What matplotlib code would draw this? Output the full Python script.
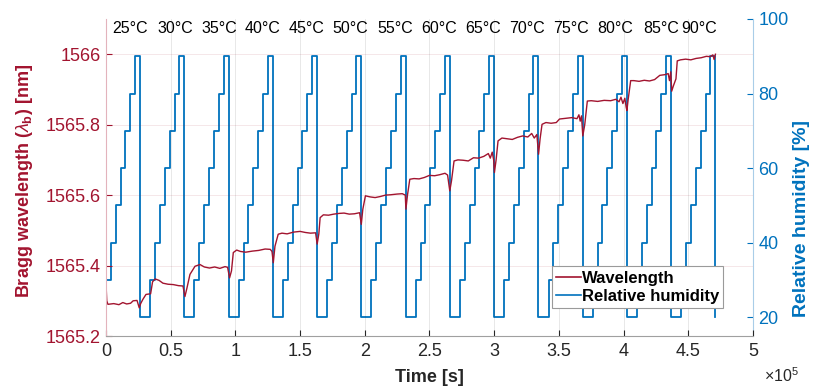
import matplotlib.pyplot as plt
from matplotlib.lines import Line2D

plt.rcParams['font.family'] = ['Liberation Sans', 'DejaVu Sans']
plt.rcParams['mathtext.fontset'] = 'custom'
plt.rcParams['mathtext.rm'] = 'Liberation Sans'
plt.rcParams['mathtext.it'] = 'Liberation Sans:italic'
plt.rcParams['mathtext.bf'] = 'Liberation Sans:bold'

# 温度标签及其位置 (s)
temps = ['25°C', '30°C', '35°C', '40°C', '45°C', '50°C', '55°C',
         '60°C', '65°C', '70°C', '75°C', '80°C', '85°C', '90°C']
temp_pos = [18550, 53320, 87330, 121330, 155330, 188560, 223340,
            257340, 291340, 325350, 359350, 393350, 428900, 458270]

# 湿度程序
rh_steps = [30, 40, 50, 60, 70, 80, 90]
rh_low = 20
step_time = 3760
low_time = 7880

# 波长数据 (时间 s, 波长 nm)
wl_t = [0, 600, 1500, 6000, 10000, 13000, 16000, 19000, 21000, 24000, 25700, 26800, 28500, 30900, 34500, 36000,
        38000, 41000, 44000, 48000, 52000, 56000, 59500, 61000, 62500, 64900, 68800, 72600,
        76000, 80000, 84000, 88000, 92000, 94000, 95500, 97000, 98400, 101000, 104000, 108000, 113000, 118000,
        123000, 127000, 128300, 129300, 130600, 133100,
        136000, 140000, 145000, 150000, 154000, 158000, 162000, 163200, 164500, 165500,
        168000, 172000, 176000, 180000, 184000, 188000, 192000, 196000, 197300, 198500, 200500,
        204000, 208000, 212000, 216000, 220000, 225000, 229000, 231300, 231800, 233000, 234800,
        238000, 242000, 246000, 250000, 254000, 258000, 262000, 264000, 265700, 267000, 269000,
        272000, 276000, 280000, 284000, 288000, 292000, 295500, 297000, 298500, 299600, 300200, 301500, 303000,
        306000, 310000, 314000, 318000, 322000, 326000, 329000, 331000, 333000, 334300, 335500, 337000,
        340000, 344000, 348000, 350500, 355000, 360000, 364000, 365500, 366500, 367500, 368500, 370000, 372000,
        375000, 380000, 385000, 390000, 394000, 396500, 398000, 399500, 401000, 402000, 402600, 403500, 405500,
        408000, 412000, 416000, 420000, 424000, 428000, 432000, 434500, 435500, 436500, 437200, 438500, 440500, 441500,
        444000, 448000, 452000, 456000, 460000, 464000, 467000, 469000, 470000, 471000]
wl_val = [1565.350, 1565.300, 1565.290, 1565.292, 1565.289, 1565.295, 1565.291, 1565.293, 1565.300, 1565.301,
          1565.280, 1565.292, 1565.304, 1565.318, 1565.320, 1565.354,
          1565.362, 1565.358, 1565.350, 1565.347, 1565.346, 1565.343, 1565.342, 1565.312, 1565.335, 1565.375,
          1565.398, 1565.403,
          1565.396, 1565.393, 1565.396, 1565.392, 1565.397, 1565.395, 1565.365, 1565.385, 1565.437, 1565.444,
          1565.440, 1565.438, 1565.441, 1565.443,
          1565.447, 1565.446, 1565.440, 1565.408, 1565.455, 1565.489,
          1565.492, 1565.490, 1565.495, 1565.497, 1565.494, 1565.492, 1565.493, 1565.461, 1565.490, 1565.536,
          1565.544, 1565.543, 1565.546, 1565.548, 1565.549, 1565.546, 1565.547, 1565.550, 1565.517, 1565.560,
          1565.598,
          1565.595, 1565.593, 1565.596, 1565.600, 1565.601, 1565.603, 1565.604, 1565.600, 1565.560, 1565.600,
          1565.645,
          1565.647, 1565.646, 1565.650, 1565.656, 1565.655, 1565.658, 1565.662, 1565.657, 1565.612, 1565.640,
          1565.697,
          1565.700, 1565.699, 1565.697, 1565.706, 1565.705, 1565.710, 1565.718, 1565.705, 1565.722, 1565.700,
          1565.664, 1565.700, 1565.754,
          1565.762, 1565.760, 1565.758, 1565.764, 1565.768, 1565.765, 1565.775, 1565.762, 1565.772, 1565.716,
          1565.760, 1565.801,
          1565.806, 1565.804, 1565.806, 1565.816, 1565.818, 1565.820, 1565.817, 1565.828, 1565.810, 1565.825,
          1565.768, 1565.800, 1565.867,
          1565.868, 1565.866, 1565.869, 1565.868, 1565.872, 1565.865, 1565.878, 1565.860, 1565.875, 1565.850,
          1565.840, 1565.870, 1565.925,
          1565.925, 1565.923, 1565.926, 1565.924, 1565.928, 1565.940, 1565.942, 1565.945, 1565.925, 1565.950,
          1565.895, 1565.910, 1565.930, 1565.981,
          1565.984, 1565.986, 1565.984, 1565.988, 1565.990, 1565.994, 1565.993, 1565.998, 1565.985, 1566.000]

red = '#A2142F'
blue = '#0072BD'

# 生成湿度阶梯
rh_t, rh_v = [], []
t = 0
for k in range(len(temps)):
    for lv in rh_steps:
        rh_t.append(t)
        rh_v.append(lv)
        t += step_time
    rh_t.append(t)
    rh_v.append(rh_low)
    if k < len(temps) - 1:
        t += low_time

fig = plt.figure(figsize=(8.14, 3.89), dpi=100)
ax = fig.add_axes([0.1302, 0.1362, 0.7948, 0.815])
ax2 = ax.twinx()
ax.set_zorder(ax2.get_zorder() + 1)
ax.patch.set_visible(False)

ax2.plot(rh_t, rh_v, drawstyle='steps-post', color=blue, lw=1.3)
ax.plot(wl_t, wl_val, color=red, lw=1.0)

ax.set_xlim(0, 5e5)
ax.set_ylim(1565.2, 1566.1)
ax2.set_ylim(15, 100)

ax.set_xticks([i * 0.5e5 for i in range(11)])
ax.set_xticklabels(['0', '0.5', '1', '1.5', '2', '2.5', '3', '3.5', '4', '4.5', '5'])
ax.set_yticks([1565.2, 1565.4, 1565.6, 1565.8, 1566.0])
ax.set_yticklabels(['1565.2', '1565.4', '1565.6', '1565.8', '1566'])
ax2.set_yticks([20, 40, 60, 80, 100])

ax.tick_params(axis='x', direction='in', length=4, labelsize=13, colors='#262626', pad=5)
ax.tick_params(axis='y', direction='in', length=4, labelsize=13, colors=red, pad=4)
ax2.tick_params(axis='y', direction='in', length=4, labelsize=13, colors=blue, pad=4)

for s in ['top', 'right']:
    ax.spines[s].set_visible(False)
for s in ['top', 'left', 'bottom']:
    ax2.spines[s].set_visible(False)
ax.spines['left'].set_color('#e3b3bc')
ax.spines['bottom'].set_color('#a0a0a0')
ax2.spines['right'].set_color('#a9cde8')
for sp in list(ax.spines.values()) + list(ax2.spines.values()):
    sp.set_linewidth(0.8)

ax.grid(axis='y', color=red, alpha=0.12, lw=0.6)
ax.grid(axis='x', color='#262626', alpha=0.12, lw=0.6)

ax.set_xlabel('Time [s]', fontsize=13, fontweight='bold', color='#262626')
ax.xaxis.set_label_coords(0.5, -0.105)
ax.set_ylabel(r'Bragg wavelength ($\lambda_{\mathbf{b}}$) [nm]', fontsize=13, fontweight='bold', color=red)
ax.yaxis.set_label_coords(-0.11, 0.49)
ax2.set_ylabel('Relative humidity [%]', fontsize=14, fontweight='bold', color=blue)
ax2.yaxis.set_label_coords(1.062, 0.37)

for lab, pos in zip(temps, temp_pos):
    ax.text(pos, 1566.072, lab, ha='center', va='center', fontsize=11.5, color='black')

fig.text(0.96, 0.034, r'$\times$10$^{5}$', ha='center', va='center', fontsize=11.5, color='#262626')

handles = [Line2D([], [], color=red, lw=1.2), Line2D([], [], color=blue, lw=1.2)]
leg = ax.legend(handles, ['Wavelength', 'Relative humidity'], loc='lower right',
                bbox_to_anchor=(0.954, 0.088), prop={'weight': 'bold', 'size': 12},
                fancybox=False, edgecolor='#9a9a9a', framealpha=1,
                handlelength=1.5, handletextpad=0.05, borderpad=0.25, labelspacing=0.2,
                borderaxespad=0)
leg.get_frame().set_linewidth(0.8)

plt.savefig('out.png', dpi=100)
